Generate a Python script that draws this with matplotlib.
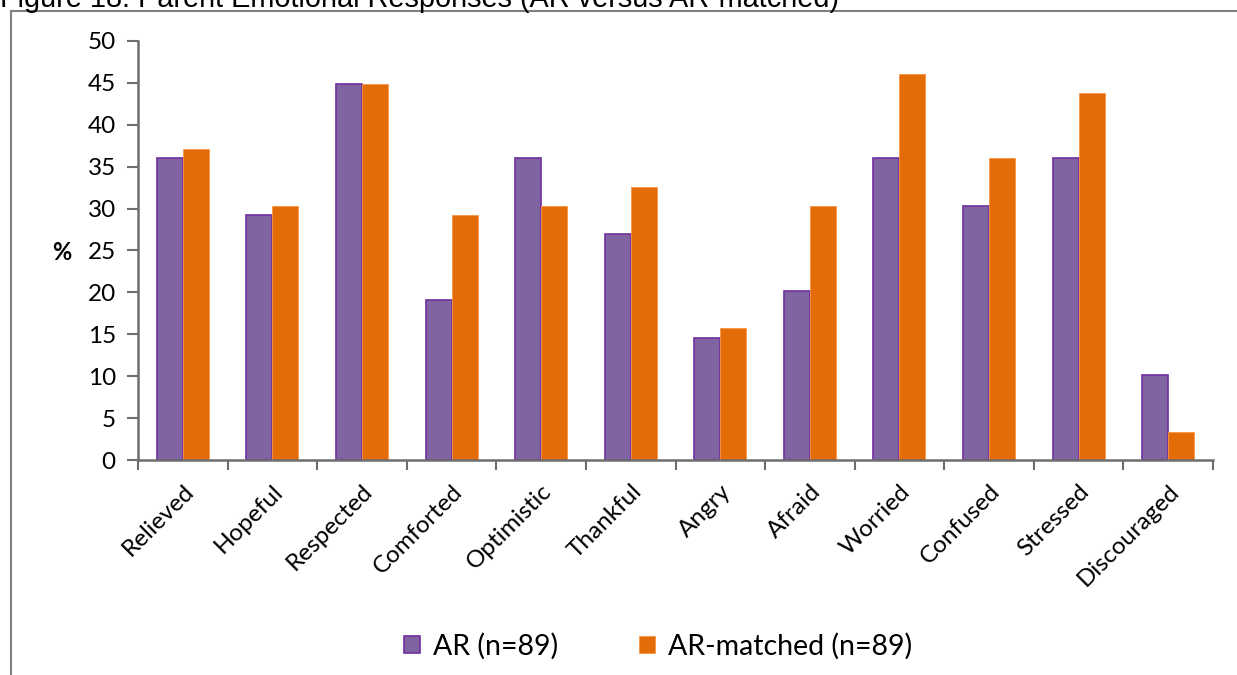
import matplotlib.pyplot as plt
import matplotlib.patches as mpatches
import numpy as np

# Parent emotional responses, % of parents
emotions = ['Relieved', 'Hopeful', 'Respected', 'Comforted', 'Optimistic', 'Thankful',
            'Angry', 'Afraid', 'Worried', 'Confused', 'Stressed', 'Discouraged']
ar_pct = [36.0, 29.2, 44.9, 19.1, 36.0, 27.0, 14.6, 20.2, 36.0, 30.3, 36.0, 10.1]
matched_pct = [37.1, 30.3, 44.9, 29.2, 30.3, 32.6, 15.7, 30.3, 46.1, 36.0, 43.8, 3.4]

PURPLE = '#8064A2'
PURPLE_EDGE = '#7030A0'
ORANGE = '#E36C09'
ORANGE_EDGE = '#F79646'
AXIS_GRAY = '#6E6E6E'

plt.rcParams['font.family'] = ['Lato', 'DejaVu Sans']

fig = plt.figure(figsize=(12.37, 6.75), dpi=100)
ax = fig.add_axes([0.1116, 0.3185, 0.869, 0.6208])

x = np.arange(len(emotions))
width = 0.29

ax.bar(x - width / 2, ar_pct, width, color=PURPLE, edgecolor=PURPLE_EDGE,
       linewidth=1.2, label='AR (n=89)')
ax.bar(x + width / 2, matched_pct, width, color=ORANGE, edgecolor=ORANGE_EDGE,
       linewidth=0.6, label='AR-matched (n=89)')

ax.set_xlim(-0.5, len(emotions) - 0.5)
ax.set_ylim(0, 50)
ax.set_yticks(np.arange(0, 51, 5))
ax.tick_params(axis='y', labelsize=17.5, direction='out', length=8, width=1.5,
               color=AXIS_GRAY, pad=8)

# category labels in the middle, tick marks on the boundaries
ax.set_xticks(x)
ax.set_xticklabels(emotions, rotation=45, ha='right', rotation_mode='anchor', fontsize=17.5)
ax.tick_params(axis='x', which='major', length=0, pad=15)
ax.set_xticks(np.arange(-0.5, len(emotions), 1), minor=True)
ax.tick_params(axis='x', which='minor', direction='out', length=7, width=1.5, color=AXIS_GRAY)

for s in ['top', 'right']:
    ax.spines[s].set_visible(False)
for s in ['left', 'bottom']:
    ax.spines[s].set_color(AXIS_GRAY)
    ax.spines[s].set_linewidth(1.8)

fig.text(62 / 1237, 1 - 253 / 675, '%', fontsize=17, fontweight='bold',
         ha='center', va='center')

ax.legend(loc='center', bbox_to_anchor=(658 / 1237, 1 - 646 / 675),
          bbox_transform=fig.transFigure, ncol=2, frameon=False, fontsize=20.5,
          handlelength=0.55, handleheight=0.55, handletextpad=0.45, columnspacing=2.85)

# chart frame (cut off at the right and bottom)
frame = mpatches.Rectangle((11 / 1237, -0.1), 1.2, 1 - 11 / 675 + 0.1,
                           transform=fig.transFigure, fill=False,
                           edgecolor='#7F7F7F', linewidth=1.5, clip_on=False)
fig.patches.append(frame)

# title, cropped at the top of the picture as in the source
fig.text(0.0, 1 - 7 / 675, 'Figure 18: Parent Emotional Responses (AR versus AR-matched)',
         fontsize=20.8, family='Liberation Sans', ha='left', va='baseline')

fig.savefig('out.png', dpi=100)
